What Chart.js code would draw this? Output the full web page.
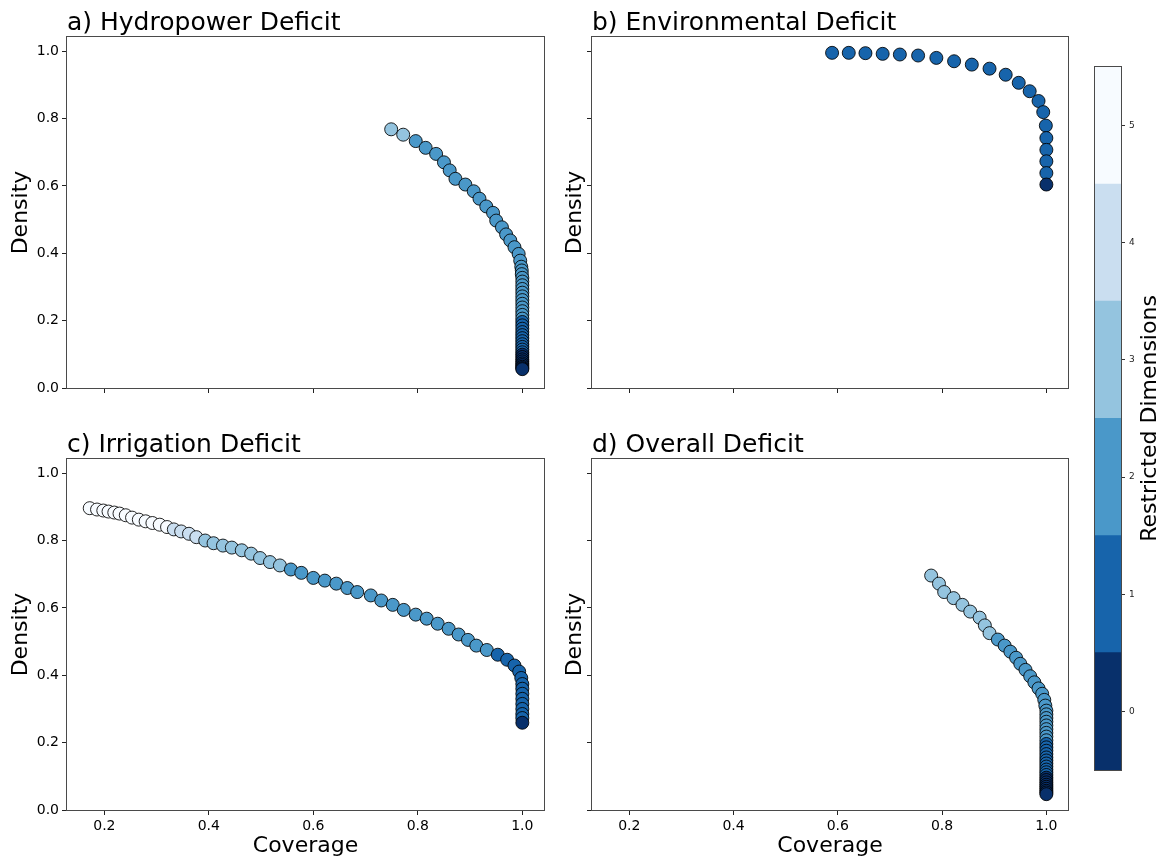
<!DOCTYPE html>
<html>
<head>
<meta charset="utf-8">
<script src="https://cdn.jsdelivr.net/npm/chart.js@4.4.1/dist/chart.umd.min.js"></script>
<style>
  html, body { margin: 0; padding: 0; background: #fff; }
  body { width: 1163px; height: 859px; position: relative; overflow: hidden; }
  canvas { position: absolute; }
</style>
</head>
<body>
<canvas id="panelA" width="552" height="430" style="left:0px;top:0px"></canvas>
<canvas id="panelB" width="514" height="430" style="left:562px;top:0px"></canvas>
<canvas id="panelC" width="552" height="437" style="left:0px;top:422px"></canvas>
<canvas id="panelD" width="514" height="437" style="left:562px;top:422px"></canvas>
<canvas id="colorbar" width="78" height="760" style="left:1085px;top:40px"></canvas>
<script>
// Axis ticks and the discrete colour levels (number of restricted dimensions)
const xTicks = [0.2, 0.4, 0.6, 0.8, 1.0];
const yTicks = [0.0, 0.2, 0.4, 0.6, 0.8, 1.0];
const levels = [0, 1, 2, 3, 4, 5];
const levelColors = ['#08306b', '#1764ab', '#4a98c9', '#94c4df', '#cadef0', '#f7fbff'];

// a) Hydropower deficit
const hydroCoverage = [0.749, 0.772, 0.796, 0.815, 0.835, 0.850, 0.861, 0.872, 0.891, 0.907,
  0.918, 0.931, 0.944, 0.950, 0.961, 0.969, 0.977, 0.985, 0.993, 0.996,
  0.998, 0.999, 0.999, 1.0, 1.0, 1.0, 1.0, 1.0, 1.0, 1.0, 1.0, 1.0, 1.0, 1.0, 1.0, 1.0, 1.0,
  1.0, 1.0, 1.0, 1.0, 1.0, 1.0, 1.0, 1.0, 1.0, 1.0, 1.0, 1.0, 1.0, 1.0, 1.0, 1.0, 1.0, 1.0];
const hydroDensity = [0.768, 0.752, 0.733, 0.713, 0.695, 0.670, 0.646, 0.621, 0.604, 0.584,
  0.562, 0.539, 0.520, 0.497, 0.477, 0.456, 0.438, 0.418, 0.398, 0.378,
  0.360, 0.349, 0.338, 0.327, 0.316, 0.305, 0.294, 0.283, 0.272, 0.261, 0.250, 0.239, 0.228, 0.217, 0.206,
  0.196, 0.186, 0.176, 0.166, 0.157, 0.148, 0.139, 0.130, 0.122, 0.114, 0.106,
  0.099, 0.092, 0.085, 0.079, 0.073, 0.068, 0.063, 0.059, 0.056];
const hydroLevel = [3, 3, 2, 2, 2, 2, 2, 2, 2, 2, 2, 2, 2, 2, 2, 2, 2, 2, 2, 2,
  2, 2, 2, 2, 2, 2, 2, 2, 2, 2, 2, 2, 2, 2, 2,
  1, 1, 1, 1, 1, 1, 1, 1, 1, 1, 1,
  0, 0, 0, 0, 0, 0, 0, 0, 0];

// b) Environmental deficit
const envCoverage = [0.589, 0.621, 0.653, 0.686, 0.719, 0.754, 0.789, 0.823, 0.857, 0.891,
  0.922, 0.947, 0.968, 0.985, 0.994, 0.999, 1.0, 1.0, 1.0, 1.0, 1.0];
const envDensity = [0.995, 0.995, 0.994, 0.992, 0.990, 0.987, 0.980, 0.970, 0.960, 0.948,
  0.930, 0.906, 0.881, 0.852, 0.819, 0.779, 0.742, 0.707, 0.673, 0.638, 0.604];
const envLevel = [1, 1, 1, 1, 1, 1, 1, 1, 1, 1, 1, 1, 1, 1, 1, 1, 1, 1, 1, 1, 0];

// c) Irrigation deficit
const irrCoverage = [0.172, 0.186, 0.198, 0.208, 0.219, 0.229, 0.241, 0.253, 0.266, 0.279,
  0.292, 0.306, 0.320, 0.333, 0.347, 0.362, 0.376, 0.393, 0.409, 0.427,
  0.444, 0.463, 0.481, 0.498, 0.517, 0.536, 0.557, 0.577, 0.600, 0.622,
  0.644, 0.665, 0.684, 0.710, 0.730, 0.752, 0.773, 0.796, 0.817, 0.838,
  0.859, 0.878, 0.896, 0.912, 0.932, 0.953, 0.971, 0.985, 0.994, 0.998,
  1.0, 1.0, 1.0, 1.0, 1.0, 1.0, 1.0, 1.0, 1.0];
const irrDensity = [0.896, 0.892, 0.889, 0.886, 0.883, 0.880, 0.875, 0.868, 0.862, 0.857,
  0.852, 0.847, 0.840, 0.833, 0.827, 0.820, 0.810, 0.800, 0.792, 0.785,
  0.779, 0.771, 0.761, 0.748, 0.736, 0.726, 0.714, 0.704, 0.689, 0.681,
  0.672, 0.659, 0.647, 0.637, 0.622, 0.609, 0.594, 0.580, 0.568, 0.553,
  0.538, 0.521, 0.505, 0.488, 0.475, 0.461, 0.446, 0.429, 0.411, 0.392,
  0.374, 0.360, 0.345, 0.330, 0.315, 0.300, 0.285, 0.273, 0.259];
const irrLevel = [5, 5, 5, 5, 5, 5, 5, 5, 5, 5, 5, 5, 5,
  4, 4, 4, 4,
  3, 3, 3, 3, 3, 3, 3, 3, 3,
  2, 2, 2, 2, 2, 2, 2, 2, 2, 2, 2, 2, 2, 2, 2, 2, 2, 2, 2,
  1, 1, 1, 1, 1, 1, 1, 1, 1, 1, 1, 1, 1,
  0];

// d) Overall deficit
const allCoverage = [0.779, 0.794, 0.804, 0.822, 0.839, 0.854, 0.872, 0.882, 0.891, 0.907,
  0.920, 0.931, 0.942, 0.950, 0.960, 0.969, 0.977, 0.985, 0.992, 0.996, 0.998,
  1.0, 1.0, 1.0, 1.0, 1.0, 1.0, 1.0, 1.0, 1.0, 1.0, 1.0, 1.0, 1.0, 1.0, 1.0,
  1.0, 1.0, 1.0, 1.0, 1.0, 1.0, 1.0, 1.0, 1.0, 1.0, 1.0, 1.0, 1.0, 1.0];
const allDensity = [0.696, 0.672, 0.647, 0.629, 0.609, 0.589, 0.571, 0.548, 0.525, 0.506,
  0.488, 0.470, 0.452, 0.434, 0.416, 0.397, 0.379, 0.361, 0.345, 0.327, 0.310,
  0.295, 0.284, 0.273, 0.262, 0.251, 0.240, 0.229, 0.218, 0.207,
  0.196, 0.186, 0.176, 0.166, 0.156, 0.147, 0.138, 0.129, 0.120, 0.112, 0.104,
  0.096, 0.089, 0.082, 0.075, 0.069, 0.063, 0.057, 0.052, 0.047];
const allLevel = [3, 3, 3, 3, 3, 3, 3, 3, 3,
  2, 2, 2, 2, 2, 2, 2, 2, 2, 2, 2, 2,
  2, 2, 2, 2, 2, 2, 2, 2, 2,
  1, 1, 1, 1, 1, 1, 1, 1, 1, 1, 1,
  0, 0, 0, 0, 0, 0, 0, 0, 0];

const xMin = 0.1285, xMax = 1.0415;
const yMin = 0.0, yMax = 1.042;
const FONT = "'DejaVu Sans', sans-serif";
const tickFont = { family: FONT, size: 14 };
const labelFont = { family: FONT, size: 22 };

// Box around each plotting area
const framePlugin = {
  id: 'frame',
  afterDraw(chart) {
    const { ctx, chartArea: a } = chart;
    ctx.save();
    ctx.strokeStyle = '#4a4a4a';
    ctx.lineWidth = 1;
    ctx.strokeRect(Math.round(a.left) - 0.5, Math.round(a.top) - 0.5,
      Math.round(a.right - a.left) + 1, Math.round(a.bottom - a.top) + 1);
    ctx.restore();
  }
};

// Left-aligned panel heading above the plotting area
const headingPlugin = {
  id: 'heading',
  afterDraw(chart, args, opts) {
    if (!opts.text) return;
    const { ctx, chartArea: a } = chart;
    ctx.save();
    ctx.font = "25px " + FONT;
    ctx.fillStyle = '#000';
    ctx.textAlign = 'left';
    ctx.textBaseline = 'alphabetic';
    ctx.fillText(opts.text, a.left, a.top - 7);
    ctx.restore();
  }
};

function scatterPanel(id, o) {
  const points = o.x.map((v, i) => ({ x: v, y: o.y[i] }));
  return new Chart(document.getElementById(id), {
    type: 'scatter',
    data: {
      datasets: [{
        data: points,
        pointRadius: 6.5,
        pointHoverRadius: 6.5,
        pointBorderWidth: 1,
        pointBorderColor: 'rgba(0,0,0,0.85)',
        pointBackgroundColor: o.level.map(l => levelColors[l])
      }]
    },
    options: {
      responsive: false,
      animation: false,
      events: [],
      layout: { padding: { top: 37, right: 8, left: 0, bottom: 0 } },
      plugins: {
        legend: { display: false },
        tooltip: { enabled: false },
        heading: { text: o.title }
      },
      scales: {
        x: {
          type: 'linear', min: xMin, max: xMax,
          afterBuildTicks: s => { s.ticks = xTicks.map(v => ({ value: v })); },
          afterFit: s => { s.height = o.xH; },
          ticks: { display: o.xLabels, font: tickFont, color: '#000', padding: 3,
                   maxRotation: 0, callback: v => Number(v).toFixed(1) },
          grid: { drawOnChartArea: false, drawTicks: true, tickLength: 5, color: '#222' },
          border: { display: false },
          title: { display: o.xLabels, text: 'Coverage', font: labelFont, color: '#000',
                   padding: { top: 0, bottom: 0 } }
        },
        y: {
          type: 'linear', min: yMin, max: yMax,
          afterBuildTicks: s => { s.ticks = yTicks.map(v => ({ value: v })); },
          afterFit: s => { s.width = o.yW; },
          ticks: { display: o.yLabels, font: tickFont, color: '#000', padding: 3,
                   callback: v => Number(v).toFixed(1) },
          grid: { drawOnChartArea: false, drawTicks: true, tickLength: 5, color: '#222' },
          border: { display: false },
          title: { display: true, text: 'Density', font: labelFont, color: '#000',
                   padding: { top: o.yTitlePad, bottom: 0 } }
        }
      }
    },
    plugins: [framePlugin, headingPlugin]
  });
}

scatterPanel('panelA', { title: 'a) Hydropower Deficit', x: hydroCoverage, y: hydroDensity, level: hydroLevel,
  xLabels: false, yLabels: true, xH: 42, yW: 67, yTitlePad: 8 });
scatterPanel('panelB', { title: 'b) Environmental Deficit', x: envCoverage, y: envDensity, level: envLevel,
  xLabels: false, yLabels: false, xH: 42, yW: 30, yTitlePad: 0 });
scatterPanel('panelC', { title: 'c) Irrigation Deficit', x: irrCoverage, y: irrDensity, level: irrLevel,
  xLabels: true, yLabels: true, xH: 49, yW: 67, yTitlePad: 8 });
scatterPanel('panelD', { title: 'd) Overall Deficit', x: allCoverage, y: allDensity, level: allLevel,
  xLabels: true, yLabels: false, xH: 49, yW: 30, yTitlePad: 0 });

// Colour bar: one band per level, label reading bottom to top
const colorbarLabelPlugin = {
  id: 'cbLabel',
  afterDraw(chart) {
    const { ctx, chartArea: a } = chart;
    ctx.save();
    ctx.translate(65, (a.top + a.bottom) / 2);
    ctx.rotate(-Math.PI / 2);
    ctx.font = "22px " + FONT;
    ctx.fillStyle = '#000';
    ctx.textAlign = 'center';
    ctx.textBaseline = 'middle';
    ctx.fillText('Restricted Dimensions', 0, 0);
    ctx.restore();
  }
};

new Chart(document.getElementById('colorbar'), {
  type: 'bar',
  data: {
    labels: [''],
    datasets: levels.map((lv, i) => ({
      data: [[lv - 0.5, lv + 0.5]],
      backgroundColor: levelColors[i],
      borderWidth: 0,
      barPercentage: 1,
      categoryPercentage: 1,
      grouped: false,
      inflateAmount: 0.5
    }))
  },
  options: {
    responsive: false,
    animation: false,
    events: [],
    layout: { padding: { left: 10, top: 27, bottom: 30, right: 0 } },
    plugins: { legend: { display: false }, tooltip: { enabled: false } },
    scales: {
      x: { display: false },
      y: {
        position: 'right', min: -0.5, max: 5.5,
        afterBuildTicks: s => { s.ticks = levels.map(v => ({ value: v })); },
        afterFit: s => { s.width = 42; },
        ticks: { font: { family: FONT, size: 9 }, color: '#222', padding: 4, callback: v => String(v) },
        grid: { drawOnChartArea: false, drawTicks: true, tickLength: 4, color: '#333' },
        border: { display: false }
      }
    }
  },
  plugins: [framePlugin, colorbarLabelPlugin]
});
</script>
</body>
</html>
